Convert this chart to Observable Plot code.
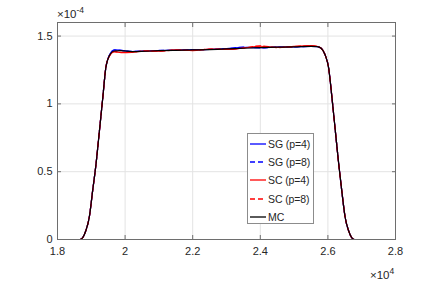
<!DOCTYPE html>
<html><head><meta charset="utf-8">
<script src="https://cdn.jsdelivr.net/npm/d3@7"></script>
<script src="https://cdn.jsdelivr.net/npm/@observablehq/plot@0.6"></script>
<style>
body{margin:0;background:#fff;}
#wrap{position:relative;width:436px;height:284px;font-family:"Liberation Sans",Arial,sans-serif;color:#262626;}
#legend{position:absolute;left:247px;top:133px;width:67px;height:91px;border:1px solid #8c8c8c;background:#fff;box-sizing:border-box;padding-top:1px;}
.row{height:18.2px;display:flex;align-items:center;font-size:10.5px;white-space:nowrap;letter-spacing:-0.1px;}
.row svg{width:16px;height:10px;margin-left:2px;margin-right:2px;flex:none;}
</style>
</head><body>
<div id="wrap"><div id="legend"></div></div>
<script>
// x positions (×10^4)
const xs = [1.8675,1.875,1.884,1.894,1.904,1.914,1.924,1.934,1.943,1.953,1.968,1.988,2.02,2.06,2.10,2.15,2.20,2.25,2.30,2.35,2.40,2.45,2.50,2.55,2.568,2.58,2.592,2.602,2.612,2.622,2.632,2.641,2.651,2.661,2.67,2.678];
// values (×10^-4)
const mc   = [0,0.015,0.066,0.164,0.36,0.557,0.80,1.046,1.267,1.353,1.39,1.392,1.385,1.388,1.392,1.395,1.398,1.400,1.405,1.410,1.415,1.418,1.420,1.424,1.422,1.41,1.36,1.267,1.046,0.80,0.557,0.36,0.164,0.066,0.015,0];
const sg4  = [0,0.015,0.066,0.164,0.36,0.557,0.80,1.046,1.267,1.356,1.398,1.395,1.386,1.390,1.393,1.396,1.399,1.402,1.408,1.416,1.414,1.418,1.421,1.424,1.422,1.41,1.36,1.267,1.046,0.80,0.557,0.36,0.164,0.066,0.015,0];
const sg8  = [0,0.015,0.066,0.164,0.36,0.557,0.80,1.046,1.267,1.355,1.396,1.394,1.387,1.389,1.394,1.395,1.400,1.401,1.407,1.418,1.413,1.419,1.420,1.425,1.422,1.41,1.36,1.267,1.046,0.80,0.557,0.36,0.164,0.066,0.015,0];
const sc4  = [0,0.015,0.066,0.164,0.36,0.557,0.80,1.046,1.267,1.350,1.384,1.378,1.380,1.390,1.389,1.398,1.393,1.404,1.401,1.412,1.425,1.416,1.424,1.430,1.424,1.41,1.36,1.267,1.046,0.80,0.557,0.36,0.164,0.066,0.015,0];
const sc8  = [0,0.015,0.066,0.164,0.36,0.557,0.80,1.046,1.267,1.351,1.386,1.380,1.382,1.391,1.388,1.397,1.395,1.403,1.403,1.411,1.428,1.415,1.423,1.428,1.423,1.41,1.36,1.267,1.046,0.80,0.557,0.36,0.164,0.066,0.015,0];

const seriesNames = ["SG (p=4)","SG (p=8)","SC (p=4)","SC (p=8)","MC"];
const seriesValues = [sg4, sg8, sc4, sc8, mc];
const seriesColors = ["#0000ff","#0000ff","#ff0000","#ff0000","#000000"];
const seriesDash = [null,"5,3",null,"5,3",null];

const xTicks = [1.8,2.0,2.2,2.4,2.6,2.8];
const xTickLabels = ["1.8","2","2.2","2.4","2.6","2.8"];
const yTicks = [0,0.5,1,1.5];
const yTickLabels = ["0","0.5","1","1.5"];

const axisColor = "#6e6e6e";
const lineMarks = seriesValues.map((vals,k) =>
  Plot.line(xs.map((x,i)=>({x, y: vals[i]})), {x:"x", y:"y", stroke: seriesColors[k], strokeWidth: 1.2, strokeDasharray: seriesDash[k], curve:"monotone-x"})
);

const chart = Plot.plot({
  width: 436, height: 284,
  marginLeft: 57, marginRight: 41, marginTop: 22, marginBottom: 45,
  style: {fontFamily: "Liberation Sans, Arial, sans-serif", fontSize: "11px", color: "#262626", background: "#fff"},
  x: {domain: [1.8, 2.8], label: null},
  y: {domain: [0, 1.6], label: null},
  marks: [
    Plot.gridX(xTicks, {stroke: "#e3e3e3", strokeOpacity: 1}),
    Plot.gridY(yTicks, {stroke: "#e3e3e3", strokeOpacity: 1}),
    ...lineMarks,
    Plot.frame({stroke: axisColor}),
    Plot.axisX(xTicks, {anchor: "bottom", tickSize: -4, tickPadding: 12, stroke: axisColor, fill: "#262626", tickFormat: (d,i) => xTickLabels[i], label: null}),
    Plot.axisX(xTicks, {anchor: "top", tickSize: -4, stroke: axisColor, tickFormat: () => "", label: null}),
    Plot.axisY(yTicks, {anchor: "left", tickSize: -4, tickPadding: 9, stroke: axisColor, fill: "#262626", tickFormat: (d,i) => yTickLabels[i], label: null}),
    Plot.axisY(yTicks, {anchor: "right", tickSize: -4, stroke: axisColor, tickFormat: () => "", label: null})
  ]
});
document.getElementById("wrap").prepend(chart);

const svg = d3.select(chart);
const t1 = svg.append("text").attr("x", 57).attr("y", 18).attr("text-anchor", "start").attr("fill", "#262626").style("font-size", "11.5px").text("×10");
t1.append("tspan").attr("dy", -5).style("font-size", "8.5px").text("-4");
const t2 = svg.append("text").attr("x", 370).attr("y", 279).attr("text-anchor", "start").attr("fill", "#262626").style("font-size", "11.5px").text("×10");
t2.append("tspan").attr("dy", -5).style("font-size", "8.5px").text("4");

const legend = d3.select("#legend");
seriesNames.forEach((name,k) => {
  const row = legend.append("div").attr("class","row");
  const s = row.append("svg").attr("viewBox","0 0 16 10");
  s.append("line").attr("x1",0).attr("x2",16).attr("y1",5).attr("y2",5)
    .attr("stroke", seriesColors[k]).attr("stroke-width", 1.3)
    .attr("stroke-dasharray", seriesDash[k] ? "5,3" : null);
  row.append("span").text(name);
});
</script>
</body></html>
